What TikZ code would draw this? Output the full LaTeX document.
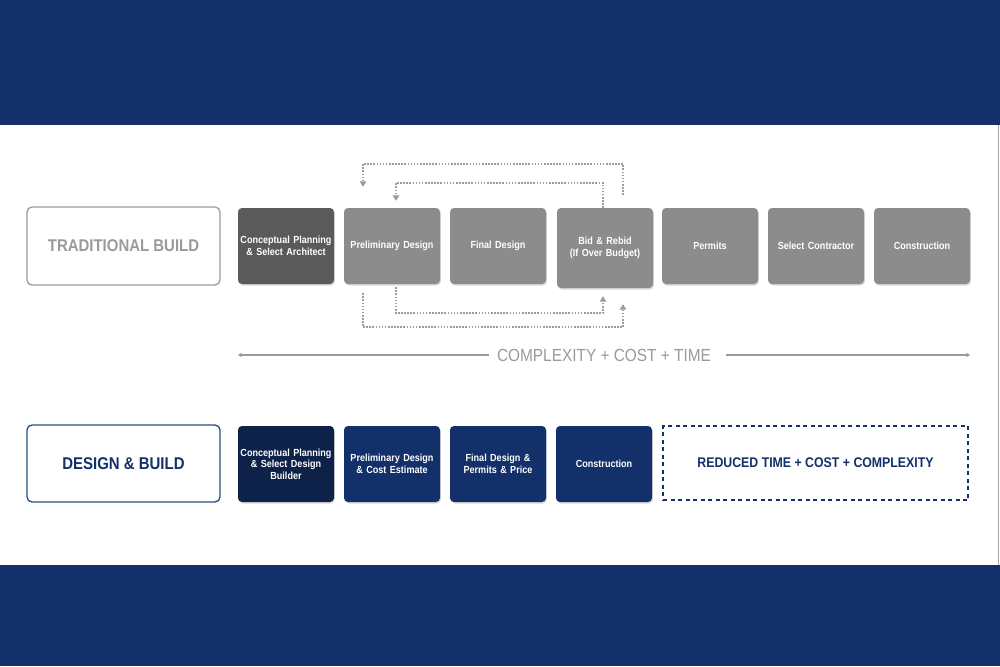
\documentclass[tikz,border=0pt]{standalone}
\usepackage{fontspec}
\setmainfont{Liberation Sans}
\newfontfamily\cnd[FakeStretch=0.88]{Liberation Sans}
\usetikzlibrary{arrows.meta,shadows,calc}
\definecolor{navy}{HTML}{13306A}
\definecolor{darknavy}{HTML}{0E2148}
\definecolor{boxgray}{HTML}{8C8C8C}
\definecolor{darkgray}{HTML}{5A5A5A}
\definecolor{txtgray}{HTML}{9A9A9A}
\definecolor{dotgray}{HTML}{9C9C9C}
\definecolor{bordblue}{HTML}{24507F}
\tikzset{
  stepbox/.style={rounded corners=4pt, minimum width=96pt, minimum height=76pt,
    text width=92pt, align=center, text=white, inner sep=0pt,
    font=\cnd\bfseries\fontsize{10.3}{11.5}\selectfont,
    drop shadow={shadow xshift=0.8pt, shadow yshift=-1.5pt, opacity=0.3}},
  graybox/.style={stepbox, fill=boxgray},
  bluebox/.style={stepbox, fill=navy},
  titlebox/.style={rounded corners=5pt, minimum width=193pt, minimum height=78pt,
    fill=white, line width=1.3pt, inner sep=0pt,
    font=\cnd\bfseries\fontsize{17}{20}\selectfont},
  dotarrow/.style={draw=dotgray, line width=1.7pt, dash pattern=on 1.6pt off 1.5pt,
    -{Triangle[width=6.5pt,length=5.5pt]}},
  axisarrow/.style={draw=txtgray, line width=1.4pt, -{Stealth[width=4.5pt,length=4pt]}}
}
\begin{document}
\begin{tikzpicture}[x=1pt,y=-1pt]
\useasboundingbox (0,0) rectangle (1000,666);
\fill[white!98!black!2] (0,0) rectangle (1000,666);
\fill[navy] (0,0) rectangle (1000,125);
\fill[navy] (0,565) rectangle (1000,666);
\draw[gray!70, line width=1pt] (998.5,125) -- (998.5,565);

% traditional row
\node[titlebox, draw=txtgray, text=txtgray] (trad) at (123.5,246) {TRADITIONAL BUILD};
\node[stepbox, fill=darkgray] (t1) at (286,246) {Conceptual Planning\\\& Select Architect};
\node[graybox] (t2) at (392,246) {Preliminary Design};
\node[graybox] (t3) at (498,246) {Final Design};
\node[graybox, minimum height=80pt] (t4) at (605,248) {Bid \& Rebid\\(If Over Budget)};
\node[graybox] (t5) at (710,246) {Permits};
\node[graybox] (t6) at (816,246) {Select Contractor};
\node[graybox] (t7) at (922,246) {Construction};

% feedback loops
\draw[dotarrow, shorten <=13pt, shorten >=21pt]
  ([xshift=18pt]t4.north) -- ++(0,-44) -| ([xshift=-29pt]t2.north);
\draw[dotarrow, shorten >=7pt]
  ([xshift=-2pt]t4.north) -- ++(0,-25) -| ([xshift=4pt]t2.north);
\draw[dotarrow, shorten <=3pt, shorten >=8pt]
  ([xshift=4pt]t2.south) -- ++(0,29) -| ([xshift=-2pt]t4.south);
\draw[dotarrow, shorten <=9pt, shorten >=16pt]
  ([xshift=-29pt]t2.south) -- ++(0,43) -| ([xshift=18pt]t4.south);

% axis
\node[inner sep=0pt, text=txtgray, font=\cnd\fontsize{17.5}{20}\selectfont] (cx) at (604,355) {COMPLEXITY + COST + TIME};
\coordinate (la) at (238,355);
\coordinate (ra) at (970,355);
\draw[axisarrow] ([xshift=-8pt]cx.west) -- (la);
\draw[axisarrow] ([xshift=15pt]cx.east) -- (ra);

% design & build row
\node[titlebox, draw=bordblue, text=navy, minimum height=77pt] (db) at (123.5,463.5) {DESIGN \& BUILD};
\node[stepbox, fill=darknavy] (b1) at (286,464) {Conceptual Planning\\\& Select Design\\Builder};
\node[bluebox] (b2) at (392,464) {Preliminary Design\\\& Cost Estimate};
\node[bluebox] (b3) at (498,464) {Final Design \&\\Permits \& Price};
\node[bluebox] (b4) at (604,464) {Construction};
\node[draw=navy, line width=1.6pt, dash pattern=on 4pt off 3.5pt, minimum width=305pt,
  minimum height=74pt, inner sep=0pt, text=navy,
  font=\cnd\bfseries\fontsize{14}{16}\selectfont] (red) at (815.5,463) {REDUCED TIME + COST + COMPLEXITY};
\end{tikzpicture}
\end{document}
